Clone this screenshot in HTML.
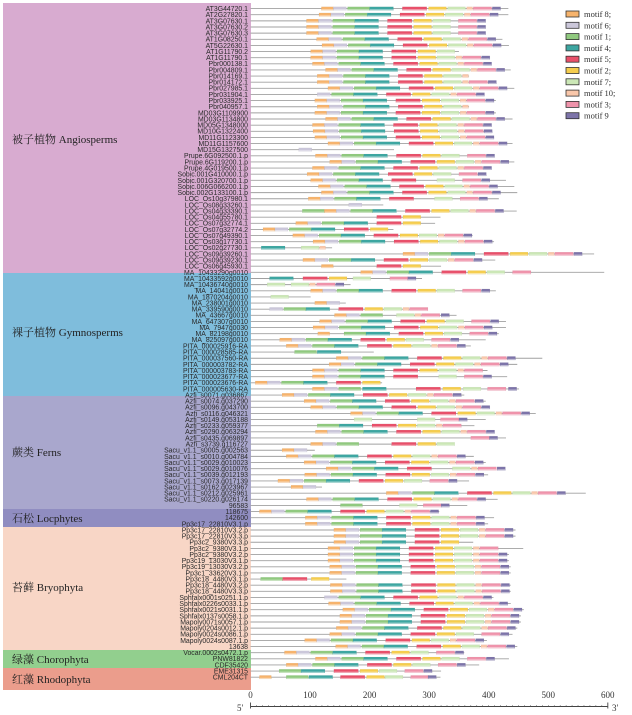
<!DOCTYPE html>
<html><head><meta charset="utf-8">
<style>
html,body{margin:0;padding:0;background:#fff;}
svg{display:block;}
.grp{font-family:"Liberation Serif","Noto Serif CJK SC",serif;font-size:11px;fill:#222;}
.lbl{font-family:"Liberation Sans",sans-serif;font-size:6.9px;fill:#2a2a2a;}
.ax{font-family:"Liberation Serif",serif;font-size:9px;fill:#333;}
.leg{font-family:"Liberation Serif",serif;font-size:8.5px;fill:#333;}
</style></head>
<body>
<svg id="chart" width="632" height="715" viewBox="0 0 632 715" xmlns="http://www.w3.org/2000/svg">
  <g>
    <rect x="3" y="3" width="248" height="270" fill="#d8abd0"/>
    <rect x="3" y="273" width="248" height="123" fill="#7fbddc"/>
    <rect x="3" y="396" width="248" height="113" fill="#a9a7cd"/>
    <rect x="3" y="509" width="248" height="18" fill="#908dc1"/>
    <rect x="3" y="527" width="248" height="123" fill="#f8d6c6"/>
    <rect x="3" y="650" width="248" height="18" fill="#92cf8e"/>
    <rect x="3" y="668" width="248" height="22" fill="#eb9d8c"/>
  </g>
  <g>
    <text class="grp" x="12" y="143">被子植物 Angiosperms</text>
    <text class="grp" x="12" y="336">裸子植物 Gymnosperms</text>
    <text class="grp" x="12" y="456">蕨类 Ferns</text>
    <text class="grp" x="12" y="522">石松 Locphytes</text>
    <text class="grp" x="12" y="591">苔藓 Bryophyta</text>
    <text class="grp" x="12" y="663">绿藻 Chorophyta</text>
    <text class="grp" x="12" y="683">红藻 Rhodophyta</text>
  </g>
  <g id="rows"></g>
  <g id="axis"></g>
  <g id="legend"></g>
</svg>
<script>
const geneNames = ["AT3G44720.1","AT2G27820.1","AT3G07630.1","AT3G07630.2","AT3G07630.3","AT1G08250.1","AT5G22630.1","AT1G11790.2","AT1G11790.1","Pbr000138.1","Pbr004809.1","Pbr014169.1","Pbr014172.1","Pbr027985.1","Pbr031904.1","Pbr033925.1","Pbr040957.1","MD03G1109900","MD03G1134800","MD05G1348000","MD10G1322400","MD11G1123300","MD11G1157600","MD15G1327500","Prupe.6G092500.1.p","Prupe.6G119200.1.p","Prupe.4G019500.1.p","Sobic.001G410000.1.p","Sobic.001G320700.1.p","Sobic.006G066200.1.p","Sobic.002G133100.1.p","LOC_Os10g37980.1","LOC_Os08g33260.1","LOC_Os04g33390.1","LOC_Os04g55780.1","LOC_Os07g32774.1","LOC_Os07g32774.2","LOC_Os07g49390.1","LOC_Os03g17730.1","LOC_Os02g27730.1","LOC_Os09g39260.1","LOC_Os09g39230.1","LOC_Os06g45930.1","MA_10433290g0010","MA_10433592g0010","MA_10436740g0010","MA_14041g0010","MA_1870204g0010","MA_238001g0010","MA_339590g0010","MA_43667g0010","MA_647307g0010","MA_7947g0030","MA_82198g0010","MA_825097g0010","PITA_000025916-RA","PITA_000028585-RA","PITA_000037560-RA","PITA_000003782-RA","PITA_000003783-RA","PITA_000023677-RA","PITA_000023676-RA","PITA_000005630-RA","Azfi_s0071.g036867","Azfi_s0074.g037290","Azfi_s0096.g043700","Azfi_s0116.g046321","Azfi_s0149.g053188","Azfi_s0233.g059377","Azfi_s0290.g063294","Azfi_s0435.g069897","Azfi_s3739.g116727","Sacu_v1.1_s0005.g002563","Sacu_v1.1_s0010.g004784","Sacu_v1.1_s0029.g010023","Sacu_v1.1_s0029.g010076","Sacu_v1.1_s0039.g012193","Sacu_v1.1_s0073.g017139","Sacu_v1.1_s0162.g023967","Sacu_v1.1_s0212.g025961","Sacu_v1.1_s0220.g026174","96583","118675","142600","Pp3c17_22810V3.1.p","Pp3c17_22810V3.2.p","Pp3c17_22810V3.3.p","Pp3c2_9380V3.3.p","Pp3c2_9380V3.1.p","Pp3c2_9380V3.2.p","Pp3c19_13030V3.1.p","Pp3c19_13030V3.2.p","Pp3c1_33620V3.1.p","Pp3c18_4480V3.1.p","Pp3c18_4480V3.2.p","Pp3c18_4480V3.3.p","Sphfalx0001s0251.1.p","Sphfalx0226s0033.1.p","Sphfalx0021s0031.1.p","Sphfalx0137s0058.1.p","Mapoly0071s0057.1.p","Mapoly0204s0012.1.p","Mapoly0024s0086.1.p","Mapoly0024s0087.1.p","13638","Vocar.0002s0472.1.p","PNW81822","CDF35420","EME31315","CML204CT"];

// protein lengths (aa)
const geneLengths = [433,433,390,390,390,423,434,350,400,400,437,367,412,443,392,412,367,412,440,403,406,409,440,241,409,443,400,392,429,443,448,417,223,447,319,310,240,373,409,137,577,411,320,594,288,168,412,101,160,292,346,429,429,417,395,370,207,490,448,398,431,221,451,359,395,392,479,395,376,407,429,323,108,375,395,411,399,367,120,563,415,364,317,409,399,445,445,374,458,434,434,437,437,161,437,437,408,437,459,454,454,448,440,397,448,359,434,384,320,319,350];

// start position (aa) of the conserved motif block (motif 8 anchor)
const blockStarts = [119,115,94,94,94,111,120,101,101,104,126,112,112,130,92,108,112,108,126,104,105,108,130,61,109,133,104,95,101,114,119,97,145,124,76,76,21,71,105,0,256,88,0,185,0,0,101,0,108,12,0,116,105,113,49,60,0,144,132,104,104,8,0,53,90,101,168,0,68,109,0,101,53,60,90,127,91,46,68,228,94,0,15,92,92,140,140,140,130,130,130,133,133,0,134,134,104,131,155,150,150,144,133,91,143,57,109,60,4,0,0];

// motifs present in each row ("A" = all ten, X = motif 10)
const motifSets = ["A","A","8614527 39","8614527 39","8614527 39","A","A","8614527","A","A","A","8614527X","A","A","614527X39","A","8614527X","A","A","A","A","A","A","6","8614527 39","A","A","8614527 39","861457 39","A","A","861457 39","6","A","52","861452","861452","A","A","","A","A","","86145273","","","8614527 39","","86","614527X3","","8614527 39","A","814527 39","8614527 39","A","","A","A","8614527X3","861457 39","861452","","A","A","A","A","","14527X3","A","","861527","86","A","A","86145 7X39","A","8614527 39","86","A","A","","A","A","A","A","A","861452","8614527X3","A","A","A","A","","A","A","614527X39","A","A","A","A","A","8614527 39","A","A","8614527 39","8614527 39","8614527 39","14527 39","",""];

// irregular rows: explicit [motif, start aa]
const customMotifs = {
  33: [[1,87],[8,124],[6,144],[1,168],[4,205],[5,260],[2,304],[7,336],[10,368],[3,379],[9,411]],
  39: [[4,18],[7,85],[10,116]],
  42: [[8,119],[5,212],[2,256]],
  44: [[4,32],[5,88],[2,132],[7,172],[3,234],[9,264]],
  45: [[7,28],[7,68],[10,99],[3,111],[9,143]],
  47: [[7,34]],
  50: [[8,141],[6,161],[1,185],[7,245],[10,276],[3,287],[9,320]],
  56: [[1,74],[4,112]],
  62: [[8,104],[6,124],[1,148],[4,188],[5,278],[2,323],[7,357],[3,398],[9,433]],
  67: [[7,174],[7,280],[3,319],[9,350]],
  70: [[3,370],[9,401]],
  81: [[1,151],[7,250],[3,290],[9,320]],
  93: [[1,17],[5,54],[2,102]],
  109: [[8,15],[1,60],[4,98],[5,151],[2,195],[7,226],[3,269],[9,298]],
  110: [[8,17],[1,60],[4,98],[5,151],[2,195],[7,227],[3,300],[9,330]]
};

const motifOrder = [8,6,1,4,5,2,7,10,3,9];
const motifOffsets = {8:0,6:20,1:44,4:81,5:136,2:180,7:212,10:244,3:255,9:287};
const motifWidths = {8:20,6:22,1:37,4:40,5:41,2:30,7:30,10:10,3:31,9:14};
const motifColors = {8:"#f6b36c",6:"#cbc7da",1:"#90c97f",4:"#3da6a1",5:"#e8506a",2:"#f5cd4e",7:"#cbe7b6",10:"#f9c7aa",3:"#ef93ab",9:"#7d74a9"};
const axisTicks = [0,100,200,300,400,500,600];

const NS = "http://www.w3.org/2000/svg";
const X0 = 250.5, XS = 0.5955;
const xScale = v => X0 + v * XS;
const yRow = i => 8.6 + i * 6.134;

function mk(tag, attrs, parent){
  const e = document.createElementNS(NS, tag);
  for (const k in attrs) e.setAttribute(k, attrs[k]);
  parent.appendChild(e);
  return e;
}
function parseSet(s){
  if (s === "A") return motifOrder.slice();
  const out = [];
  for (const ch of s) {
    if (ch === "X") out.push(10);
    else if (ch !== " ") out.push(+ch);
  }
  return out;
}

const rowsG = document.getElementById("rows");
geneNames.forEach((name, i) => {
  const y = yRow(i);
  const g = mk("g", {}, rowsG);
  
  
  const t = mk("text", {x: 248, y: y + 2.4, "text-anchor": "end", class: "lbl"}, g);
  t.textContent = name;
  
  
  const ln = mk("line", {x1: xScale(0), x2: xScale(geneLengths[i]), y1: y, y2: y, stroke: "#a0a0a0", "stroke-width": 0.9}, g);
  
  
  let segs;
  if (customMotifs[i]) segs = customMotifs[i];
  else segs = parseSet(motifSets[i]).map(m => [m, blockStarts[i] + motifOffsets[m]]);
  segs.forEach(([m, s]) => {
    const r = mk("rect", {x: xScale(s), y: y - 1.8, width: motifWidths[m] * XS, height: 3.6,
      fill: motifColors[m], stroke: "rgba(0,0,0,0.08)", "stroke-width": 0.3}, g);
    
    
    const h = mk("rect", {x: xScale(s) + 0.3, y: y + 0.6, width: motifWidths[m] * XS - 0.6, height: 1.2, fill: "rgba(255,255,255,0.5)"}, g);
    
    
  });
});

// axis
const axG = document.getElementById("axis");
const axY = 706.5;
const axLine = mk("line", {x1: xScale(0), x2: xScale(600), y1: axY, y2: axY, stroke: "#444", "stroke-width": 1}, axG);


for (let v = 0; v <= 600; v += 10) {
  const big = v === 0 || v === 600;
  const tk = mk("line", {x1: xScale(v), x2: xScale(v), y1: axY - (big ? 4 : 1.5), y2: axY + (big ? 2 : 0), stroke: "#555", "stroke-width": big ? 1 : 0.5}, axG);
  
  
}
axisTicks.forEach(v => {
  const t = mk("text", {x: xScale(v), y: 698, "text-anchor": "middle", class: "ax"}, axG);
  t.textContent = v;
  
  
});
const t5 = mk("text", {x: 237, y: 711, class: "ax"}, axG);
t5.textContent = "5′";


const t3 = mk("text", {x: 612, y: 711, class: "ax"}, axG);
t3.textContent = "3′";



// legend
const legG = document.getElementById("legend");
const legendLabels = ["motif 8;","motif 6;","motif 1;","motif 4;","motif 5;","motif 2;","motif 7;","motif 10;","motif 3;","motif 9"];
motifOrder.forEach((m, i) => {
  const y = 11 + i * 11.3;
  const g = mk("g", {}, legG);
  
  
  const r = mk("rect", {x: 566, y: y, width: 13, height: 6, fill: motifColors[m], stroke: "#333", "stroke-width": 0.8}, g);
  
  
  const t = mk("text", {x: 584, y: y + 6, class: "leg"}, g);
  t.textContent = legendLabels[i];
  
  
});
</script>
</body></html>
